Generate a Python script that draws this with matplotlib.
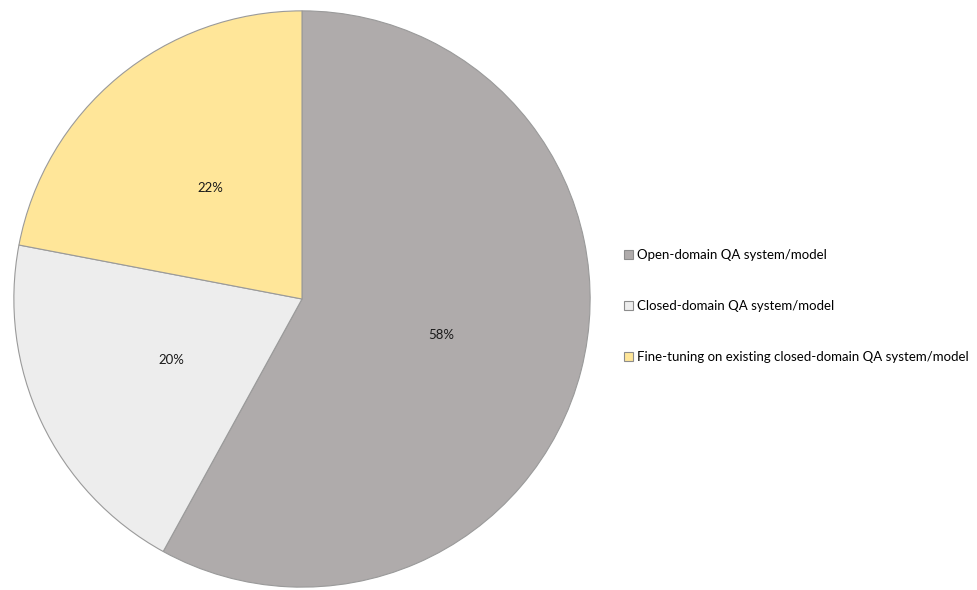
import matplotlib.pyplot as plt

categorias = ["Open-domain QA system/model",
              "Closed-domain QA system/model",
              "Fine-tuning on existing closed-domain QA system/model"]
percentuais = [58, 20, 22]
cores = ["#AFABAB", "#EDEDED", "#FFE699"]

plt.rcParams['font.family'] = ['Lato', 'DejaVu Sans']

fig = plt.figure(figsize=(9.78, 5.90), dpi=100)
ax = fig.add_axes([13 / 978, 2 / 590, 578 / 978, 578 / 590])

fatias, textos, autotextos = ax.pie(
    percentuais, colors=cores, startangle=90, counterclock=False,
    autopct="%d%%", pctdistance=0.5,
    wedgeprops={"edgecolor": "#9A9A9A", "linewidth": 0.8},
    textprops={"fontsize": 9.5, "color": "#1A1A1A"})
ax.set_xlim(-1.003, 1.003)
ax.set_ylim(-1.003, 1.003)
ax.set_aspect("equal")

leg = fig.legend(fatias, categorias, loc="center left",
                 bbox_to_anchor=(624 / 978, 1 - 306 / 590),
                 frameon=False, fontsize=9.5, labelspacing=2.95,
                 handlelength=0.65, handleheight=0.65, handletextpad=0.35,
                 borderaxespad=0, borderpad=0)
for h in leg.legend_handles:
    h.set_edgecolor("#8C8C8C")
    h.set_linewidth(0.8)

fig.savefig("out.png", dpi=100)
